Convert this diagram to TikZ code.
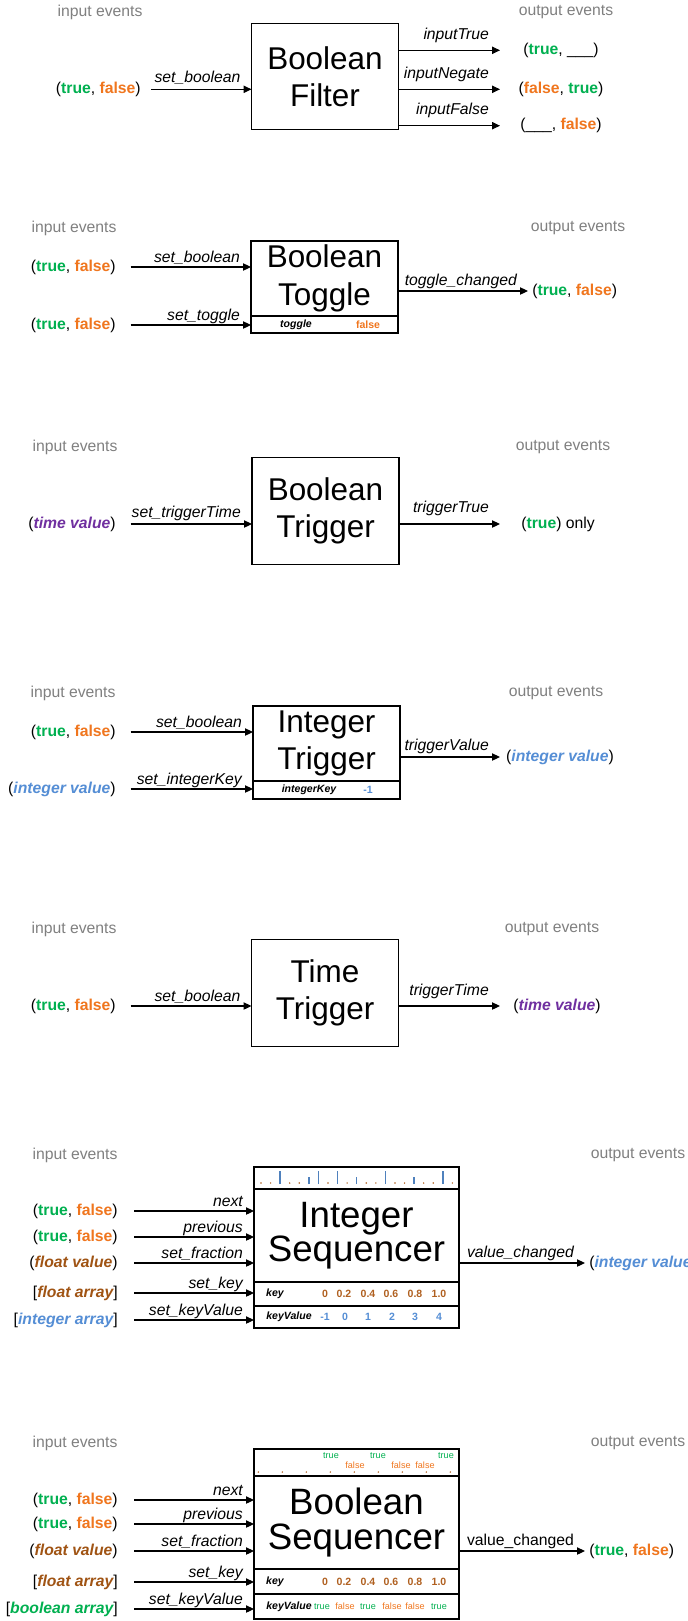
\documentclass[tikz,border=0pt]{standalone}
\usepackage{fontspec}
\setmainfont{Liberation Sans}
\usepackage{tikz}
\usetikzlibrary{arrows.meta, positioning}

\definecolor{truegreen}{RGB}{0,176,80}
\definecolor{falseorange}{RGB}{240,118,30}
\definecolor{timepurple}{RGB}{112,48,160}
\definecolor{intblue}{RGB}{85,142,213}
\definecolor{floatbrown}{RGB}{160,84,20}
\definecolor{keybrown}{RGB}{176,96,32}
\definecolor{tickblue}{RGB}{79,129,189}
\definecolor{headgray}{RGB}{128,128,128}

\newcommand{\titlefont}{\fontsize{23.6}{28.1}\selectfont}
\newcommand{\seqfont}{\fontsize{27.5}{25.9}\selectfont}
\newcommand{\evfont}{\fontsize{11.8}{14}\selectfont}
\newcommand{\fieldfont}{\fontsize{7.9}{9}\selectfont}
\newcommand{\trackfont}{\fontsize{6.8}{8}\selectfont}

\newcommand{\valtrue}{\textbf{\textcolor{truegreen}{true}}}
\newcommand{\valfalse}{\textbf{\textcolor{falseorange}{false}}}
\newcommand{\tfpair}{(\valtrue, \valfalse)}
\newcommand{\typed}[2]{\textbf{\textit{\textcolor{#1}{#2}}}}

\begin{document}
\begin{tikzpicture}[x=0.75pt, y=-0.75pt,
  every node/.style={font=\evfont, inner sep=0pt},
  heading/.style={text=headgray},
  block/.style={draw, line width=0.8pt, font=\titlefont, align=center,
    outer sep=0pt, minimum width=110.25pt, minimum height=80pt},
  flagstrip/.style={draw, line width=1.5pt, outer sep=0pt,
    minimum width=110.25pt, minimum height=13pt},
  seqblock/.style={draw, line width=1.5pt, font=\seqfont, align=center,
    outer sep=0pt, minimum width=153.75pt, minimum height=69.75pt},
  seqstrip/.style={draw, line width=1.5pt, outer sep=0pt, minimum width=153.75pt},
  src/.style={anchor=east},
  outarrow/.style={-{Triangle[length=6pt, width=5.5pt]}, line width=0.8pt},
  inarrow/.style={outarrow, shorten <=11pt},
  lbl/.style={font=\evfont\itshape, anchor=base east, xshift=-8pt, yshift=3.75pt},
  field/.style={font=\fieldfont\bfseries\itshape},
  fieldval/.style={font=\fieldfont\bfseries},
  trackval/.style={font=\trackfont},
  tick/.style={tickblue, line width=1.1pt},
]
\path[use as bounding box, fill=white] (0,0) rectangle (687,1621);

% Boolean Filter
\node[heading] (filterin) at (100,12) {input events};
\node[heading] (filterout) at (566,12) {output events};
\node[block] (filter) at (325,76.5) {Boolean\\Filter};
\node[src] (filtersrc) at (141,89.3) {\tfpair};
\draw[inarrow, shorten <=7.5pt] (filtersrc.east) -- (filtersrc.east -| filter.west)
  node[lbl, yshift=1.5pt] {set\_boolean};
\foreach \yy/\ev/\what [count=\i] in {50.3/inputTrue/{(\valtrue, \_\_\_)},
    89.3/inputNegate/{(\valfalse, \valtrue)}, 125.7/inputFalse/{(\_\_\_, \valfalse)}}{
  \coordinate (filterend\i) at (500,\yy);
  \draw[outarrow] (filterend\i -| filter.east) -- (filterend\i)
    node[lbl, yshift=4.5pt] {\ev};
  \node (filterdst\i) at (561,\yy) {\what};
}

% Boolean Toggle
\node[heading] (togglein) at (74,228) {input events};
\node[heading] (toggleout) at (578,228) {output events};
\node[block, minimum height=56.25pt] (toggle) at (324.5,278.5) {Boolean\\Toggle};
\node[flagstrip, below=0pt of toggle] (toggleflag) {};
\node[field] (toggleflagname) at (296,325) {toggle};
\node[fieldval, text=falseorange] (toggleflagval) at (368,325) {false};
\node[src] (togglesrc1) at (116,267) {\tfpair};
\node[src] (togglesrc2) at (116,325) {\tfpair};
\draw[inarrow] (togglesrc1.east) -- (togglesrc1.east -| toggle.west) node[lbl] {set\_boolean};
\draw[inarrow] (togglesrc2.east) -- (togglesrc2.east -| toggleflag.west) node[lbl] {set\_toggle};
\coordinate (toggleend) at (528,291);
\draw[outarrow] (toggleend -| toggle.east) -- (toggleend)
  node[lbl, yshift=0.75pt] {toggle\_changed};
\node[anchor=west] (toggledst) at (532,291) {\tfpair};

% Boolean Trigger
\node[heading] (btrigin) at (75,447) {input events};
\node[heading] (btrigout) at (563,447) {output events};
\node[block] (btrig) at (325.5,511) {Boolean\\Trigger};
\node[src] (btrigsrc) at (116,524) {(\typed{timepurple}{time value})};
\draw[inarrow] (btrigsrc.east) -- (btrigsrc.east -| btrig.west)
  node[lbl, yshift=1.5pt] {set\_triggerTime};
\coordinate (btrigend) at (500,524);
\draw[outarrow] (btrigend -| btrig.east) -- (btrigend) node[lbl, yshift=5.25pt] {triggerTrue};
\node (btrigdst) at (558,524) {(\valtrue) only};

% Integer Trigger
\node[heading] (itrigin) at (73,693) {input events};
\node[heading] (itrigout) at (556,693) {output events};
\node[block, minimum height=56.25pt] (itrig) at (326.5,743.5) {Integer\\Trigger};
\node[flagstrip, minimum height=13.5pt, below=0pt of itrig] (itrigkey) {};
\node[field] (itrigkeyname) at (309,790) {integerKey};
\node[fieldval, text=intblue] (itrigkeyval) at (368,790) {-1};
\node[src] (itrigsrc1) at (116,732) {\tfpair};
\node[src] (itrigsrc2) at (116,789) {(\typed{intblue}{integer value})};
\draw[inarrow] (itrigsrc1.east) -- (itrigsrc1.east -| itrig.west) node[lbl] {set\_boolean};
\draw[inarrow] (itrigsrc2.east) -- (itrigsrc2.east -| itrigkey.west) node[lbl] {set\_integerKey};
\coordinate (itrigend) at (500,757);
\draw[outarrow] (itrigend -| itrig.east) -- (itrigend) node[lbl, yshift=1.5pt] {triggerValue};
\node (itrigdst) at (560,757) {(\typed{intblue}{integer value})};

% Time Trigger
\node[heading] (ttrigin) at (74,929) {input events};
\node[heading] (ttrigout) at (552,929) {output events};
\node[block] (ttrig) at (325,993) {Time\\Trigger};
\node[src] (ttrigsrc) at (116,1006) {\tfpair};
\draw[inarrow] (ttrigsrc.east) -- (ttrigsrc.east -| ttrig.west) node[lbl] {set\_boolean};
\coordinate (ttrigend) at (500,1006);
\draw[outarrow] (ttrigend -| ttrig.east) -- (ttrigend) node[lbl, yshift=4.5pt] {triggerTime};
\node (ttrigdst) at (557,1006) {(\typed{timepurple}{time value})};

% Integer Sequencer
\node[heading] (iseqin) at (75,1155) {input events};
\node[heading] (iseqout) at (638,1155) {output events};
\node[seqblock] (iseq) at (356.5,1235.5) {Integer\\Sequencer};
\node[seqstrip, minimum height=16.5pt, above=0pt of iseq] (iseqtrack) {};
\node[seqstrip, minimum height=18pt, below=0pt of iseq] (iseqkey) {};
\node[seqstrip, minimum height=16.5pt, below=0pt of iseqkey] (iseqkv) {};
\foreach \h [count=\i from 0] in {0,0,2,0,0,1,2,0,2,0,1,0,0,2,0,0,1,0,0,2,0}{
  \ifcase\h\relax
    \fill[keybrown] (261+9.57*\i,1183) circle (0.6pt);
  \or \draw[tick] (261+9.57*\i,1184) -- ++(0,-7);
  \or \draw[tick] (261+9.57*\i,1184) -- ++(0,-13);
  \fi
}
\node[field] (iseqkeyname) at (275,1294) {key};
\foreach \v/\xx [count=\i] in {0/325, 0.2/344, 0.4/368, 0.6/391, 0.8/415, 1.0/439}
  \node[fieldval, text=keybrown] (iseqk\i) at (\xx,1294) {\v};
\node[field] (iseqkvname) at (289,1317) {keyValue};
\foreach \v/\xx [count=\i] in {-1/325, 0/345, 1/368, 2/392, 3/415, 4/439}
  \node[fieldval, text=intblue] (iseqkv\i) at (\xx,1317) {\v};
\foreach \yy/\ev/\what [count=\i] in {1211/next/{\tfpair}, 1237/previous/{\tfpair},
    1263/set\_fraction/{(\typed{floatbrown}{float value})},
    1293/set\_key/{[\typed{floatbrown}{float array}]},
    1320/set\_keyValue/{[\typed{intblue}{integer array}]}}{
  \node[src] (iseqsrc\i) at (118,\yy) {\what};
  \draw[inarrow, shorten <=12pt] (iseqsrc\i.east) -- (iseqsrc\i.east -| iseq.west) node[lbl] {\ev};
}
\coordinate (iseqend) at (585,1263);
\draw[outarrow] (iseqend -| iseq.east) -- (iseqend) node[lbl, yshift=0.75pt] {value\_changed};
\node[anchor=west] (iseqdst) at (589,1263) {(\typed{intblue}{integer value})};

% Boolean Sequencer
\node[heading] (bseqin) at (75,1443) {input events};
\node[heading] (bseqout) at (638,1443) {output events};
\node[seqblock] (bseq) at (356.5,1522.5) {Boolean\\Sequencer};
\node[seqstrip, minimum height=20.25pt, above=0pt of bseq] (bseqtrack) {};
\node[seqstrip, minimum height=18.75pt, below=0pt of bseq] (bseqkey) {};
\node[seqstrip, minimum height=18.75pt, below=0pt of bseqkey] (bseqkv) {};
\foreach \i in {0,...,8}
  \fill[keybrown] (258.3+24*\i,1472) circle (0.6pt);
\foreach \c/\v/\xx/\yy [count=\i] in {truegreen/true/331/1456, falseorange/false/355/1465,
    truegreen/true/378/1456, falseorange/false/401/1465, falseorange/false/425/1465,
    truegreen/true/446/1456}
  \node[trackval, text=\c] (bseqtrack\i) at (\xx,\yy) {\v};
\node[field] (bseqkeyname) at (275,1581.5) {key};
\foreach \v/\xx [count=\i] in {0/325, 0.2/344, 0.4/368, 0.6/391, 0.8/415, 1.0/439}
  \node[fieldval, text=keybrown] (bseqk\i) at (\xx,1581.5) {\v};
\node[field] (bseqkvname) at (289,1606.5) {keyValue};
\foreach \c/\v/\xx [count=\i] in {truegreen/true/322, falseorange/false/345, truegreen/true/368,
    falseorange/false/392, falseorange/false/415, truegreen/true/439}
  \node[trackval, text=\c] (bseqkv\i) at (\xx,1606.5) {\v};
\foreach \yy/\ev/\what [count=\i] in {1500/next/{\tfpair}, 1524/previous/{\tfpair},
    1551/set\_fraction/{(\typed{floatbrown}{float value})},
    1582/set\_key/{[\typed{floatbrown}{float array}]},
    1609/set\_keyValue/{[\typed{truegreen}{boolean array}]}}{
  \node[src] (bseqsrc\i) at (118,\yy) {\what};
  \draw[inarrow, shorten <=12pt] (bseqsrc\i.east) -- (bseqsrc\i.east -| bseq.west) node[lbl] {\ev};
}
\coordinate (bseqend) at (585,1551);
\draw[outarrow] (bseqend -| bseq.east) -- (bseqend)
  node[lbl, font=\evfont, yshift=0.75pt] {value\_changed};
\node[anchor=west] (bseqdst) at (589,1551) {\tfpair};
\end{tikzpicture}
\end{document}
